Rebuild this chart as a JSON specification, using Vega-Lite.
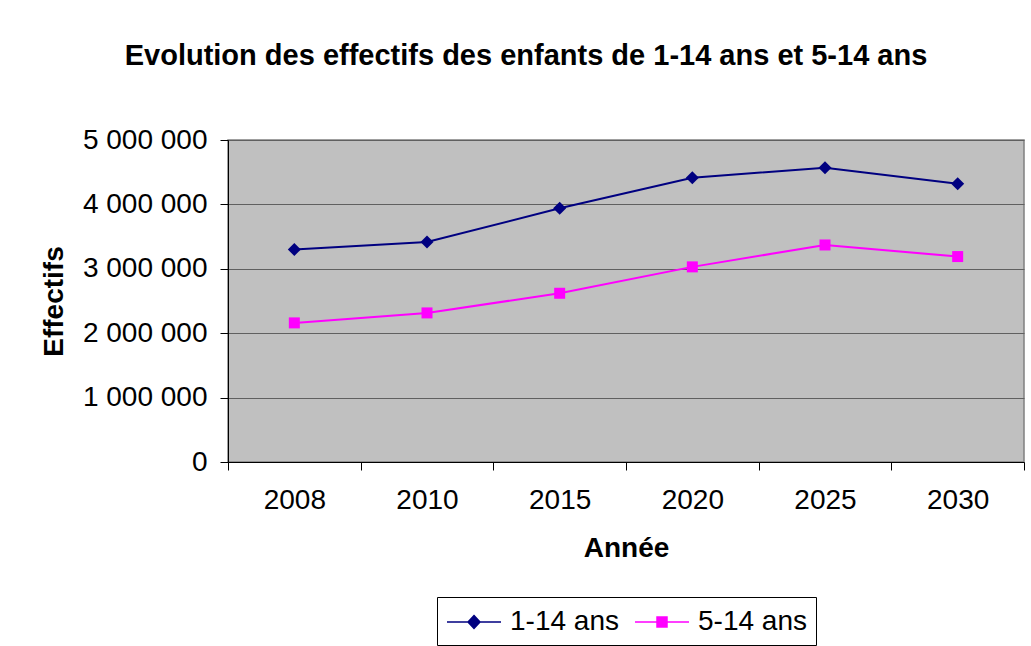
{
  "$schema": "https://vega.github.io/schema/vega-lite/v6.json",
  "autosize": "none",
  "width": 796,
  "height": 322,
  "padding": {"left": 228, "top": 140, "right": 7, "bottom": 184},
  "background": "white",
  "title": {
    "text": "Evolution des effectifs des enfants de 1-14 ans et 5-14 ans",
    "font": "Liberation Sans",
    "fontSize": 29,
    "fontWeight": "bold",
    "color": "black",
    "anchor": "middle",
    "frame": "group",
    "dx": -100,
    "offset": 55
  },
  "data": {
    "values": [
      {"annee": "2008", "serie": "1-14 ans", "effectif": 3300000},
      {"annee": "2010", "serie": "1-14 ans", "effectif": 3415000},
      {"annee": "2015", "serie": "1-14 ans", "effectif": 3940000},
      {"annee": "2020", "serie": "1-14 ans", "effectif": 4415000},
      {"annee": "2025", "serie": "1-14 ans", "effectif": 4570000},
      {"annee": "2030", "serie": "1-14 ans", "effectif": 4320000},
      {"annee": "2008", "serie": "5-14 ans", "effectif": 2160000},
      {"annee": "2010", "serie": "5-14 ans", "effectif": 2315000},
      {"annee": "2015", "serie": "5-14 ans", "effectif": 2620000},
      {"annee": "2020", "serie": "5-14 ans", "effectif": 3030000},
      {"annee": "2025", "serie": "5-14 ans", "effectif": 3370000},
      {"annee": "2030", "serie": "5-14 ans", "effectif": 3190000}
    ]
  },
  "encoding": {
    "x": {
      "field": "annee",
      "type": "ordinal",
      "scale": {"type": "band", "paddingInner": 0, "paddingOuter": 0},
      "axis": {
        "title": "Année",
        "labelAngle": 0,
        "tickBand": "extent",
        "grid": false,
        "domainColor": "black",
        "domainWidth": 1,
        "tickColor": "black",
        "tickSize": 8,
        "labelPadding": 16,
        "titlePadding": 20
      }
    },
    "y": {
      "field": "effectif",
      "type": "quantitative",
      "scale": {"domain": [0, 5000000], "nice": false, "zero": true},
      "axis": {
        "title": "Effectifs",
        "values": [0, 1000000, 2000000, 3000000, 4000000, 5000000],
        "format": ",d",
        "grid": true,
        "gridColor": "#606060",
        "gridWidth": 1,
        "domainColor": "black",
        "domainWidth": 1,
        "tickColor": "black",
        "tickSize": 8,
        "labelPadding": 13,
        "titlePadding": 14
      }
    }
  },
  "layer": [
    {
      "transform": [{"filter": "datum.serie == '1-14 ans'"}],
      "mark": {"type": "line", "strokeWidth": 2, "color": "#000080"}
    },
    {
      "transform": [{"filter": "datum.serie == '5-14 ans'"}],
      "mark": {"type": "line", "strokeWidth": 2, "color": "#FF00FF"}
    },
    {
      "mark": {"type": "point", "filled": true, "size": 1},
      "encoding": {
        "shape": {
          "field": "serie",
          "type": "nominal",
          "title": null,
          "scale": {
            "domain": ["1-14 ans", "5-14 ans"],
            "range": ["M-1,0H2.6M0.8,-0.43L1.2,0L0.8,0.43L0.4,0Z", "M-1,0H2.6M0.467,-0.333H1.133V0.333H0.467Z"]
          }
        },
        "fill": {
          "field": "serie",
          "type": "nominal",
          "title": null,
          "scale": {"domain": ["1-14 ans", "5-14 ans"], "range": ["#000080", "#FF00FF"]}
        },
        "stroke": {
          "field": "serie",
          "type": "nominal",
          "title": null,
          "scale": {"domain": ["1-14 ans", "5-14 ans"], "range": ["#000080", "#FF00FF"]}
        }
      }
    },
    {
      "transform": [{"filter": "datum.serie == '1-14 ans'"}],
      "mark": {"type": "point", "filled": true, "shape": "diamond", "size": 170, "color": "#000080", "opacity": 1}
    },
    {
      "transform": [{"filter": "datum.serie == '5-14 ans'"}],
      "mark": {"type": "point", "filled": true, "shape": "square", "size": 121, "color": "#FF00FF", "opacity": 1}
    }
  ],
  "config": {
    "locale": {
      "number": {"decimal": ",", "thousands": " ", "grouping": [3], "currency": ["", " €"]}
    },
    "font": "Liberation Sans",
    "view": {"fill": "#C0C0C0", "stroke": "#808080", "strokeWidth": 1.5},
    "axis": {
      "labelFont": "Liberation Sans",
      "labelFontSize": 28,
      "labelColor": "black",
      "titleFont": "Liberation Sans",
      "titleFontSize": 28,
      "titleFontWeight": "bold",
      "titleColor": "black"
    },
    "legend": {
      "orient": "none",
      "legendX": 209,
      "legendY": 457,
      "direction": "horizontal",
      "strokeColor": "black",
      "fillColor": "white",
      "padding": 9,
      "columnPadding": 13,
      "labelOffset": 32,
      "labelFont": "Liberation Sans",
      "labelFontSize": 28,
      "labelColor": "black",
      "symbolSize": 900,
      "symbolStrokeWidth": 1.5,
      "symbolOpacity": 1,
      "labelLimit": 300
    }
  }
}
